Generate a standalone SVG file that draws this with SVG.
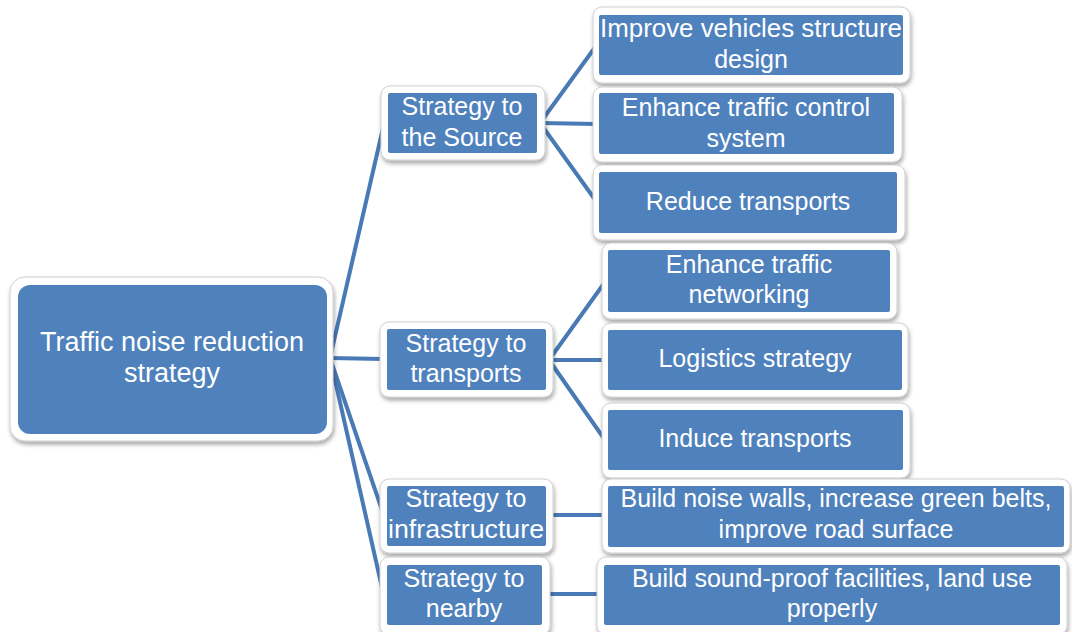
<svg xmlns="http://www.w3.org/2000/svg" width="1072" height="632" viewBox="0 0 1072 632">
<defs>
<filter id="sh" x="-10%" y="-10%" width="120%" height="130%">
<feDropShadow dx="1" dy="3" stdDeviation="2" flood-color="#000" flood-opacity="0.35"/>
</filter>
<style>
.frame{fill:#ffffff;stroke:#cfcfcf;stroke-width:1;filter:url(#sh)}
.box{fill:#4f81bd}
.t{font-family:"Liberation Sans",Arial,sans-serif;font-size:25px;fill:#ffffff;text-anchor:middle}
.tr{font-size:27px}
.c{stroke:#4a7ab5;stroke-width:4;fill:none;stroke-linecap:round}
</style>
</defs>
<rect width="1072" height="632" fill="#ffffff"/>
<g id="connectors">
<line class="c" x1="330" y1="358" x2="383" y2="128"/>
<line class="c" x1="330" y1="358" x2="383" y2="359"/>
<line class="c" x1="330" y1="358" x2="383" y2="513"/>
<line class="c" x1="330" y1="358" x2="383" y2="592"/>
<line class="c" x1="540" y1="123" x2="596" y2="46"/>
<line class="c" x1="540" y1="123" x2="596" y2="124"/>
<line class="c" x1="540" y1="123" x2="596" y2="201"/>
<line class="c" x1="549" y1="360" x2="605" y2="282"/>
<line class="c" x1="549" y1="360" x2="605" y2="360"/>
<line class="c" x1="549" y1="360" x2="605" y2="440"/>
<line class="c" x1="546" y1="515" x2="605" y2="515"/>
<line class="c" x1="542" y1="594" x2="600" y2="594"/>
</g>
<g id="root">
<rect class="frame" x="10" y="277" width="323" height="164" rx="15"/>
<rect class="box" x="18" y="285" width="309" height="149" rx="12"/>
<text class="t tr" x="172" y="351">Traffic noise reduction</text>
<text class="t tr" x="172" y="382">strategy</text>
</g>
<g id="source">
<rect class="frame" x="381" y="86" width="164" height="74" rx="9"/>
<rect class="box" x="388" y="93" width="149" height="60" rx="2"/>
<text class="t" x="462" y="115">Strategy to</text>
<text class="t" x="462" y="146">the Source</text>
</g>
<g id="transports">
<rect class="frame" x="380" y="322" width="173" height="75" rx="9"/>
<rect class="box" x="387" y="329" width="159" height="61" rx="2"/>
<text class="t" x="466" y="352">Strategy to</text>
<text class="t" x="466" y="382">transports</text>
</g>
<g id="infrastructure">
<rect class="frame" x="380" y="479" width="173" height="74" rx="9"/>
<rect class="box" x="387" y="486" width="159" height="60" rx="2"/>
<text class="t" x="466" y="507">Strategy to</text>
<text class="t" x="466" y="538" textLength="156" lengthAdjust="spacingAndGlyphs">infrastructure</text>
</g>
<g id="nearby">
<rect class="frame" x="380" y="557" width="170" height="78" rx="9"/>
<rect class="box" x="387" y="565" width="155" height="60" rx="2"/>
<text class="t" x="464" y="587">Strategy to</text>
<text class="t" x="464" y="617">nearby</text>
</g>
<g id="improve">
<rect class="frame" x="593" y="7" width="317" height="76" rx="9"/>
<rect class="box" x="599" y="15" width="304" height="60" rx="2"/>
<text class="t" x="751" y="37" textLength="302" lengthAdjust="spacingAndGlyphs">Improve vehicles structure</text>
<text class="t" x="751" y="68">design</text>
</g>
<g id="control">
<rect class="frame" x="593" y="87" width="309" height="75" rx="9"/>
<rect class="box" x="599" y="93" width="295" height="61" rx="2"/>
<text class="t" x="746" y="116">Enhance traffic control</text>
<text class="t" x="746" y="147">system</text>
</g>
<g id="reduce">
<rect class="frame" x="593" y="165" width="312" height="75" rx="9"/>
<rect class="box" x="599" y="172" width="298" height="61" rx="2"/>
<text class="t" x="748" y="210">Reduce transports</text>
</g>
<g id="networking">
<rect class="frame" x="602" y="243" width="295" height="76" rx="9"/>
<rect class="box" x="608" y="250" width="282" height="62" rx="2"/>
<text class="t" x="749" y="273">Enhance traffic</text>
<text class="t" x="749" y="303">networking</text>
</g>
<g id="logistics">
<rect class="frame" x="602" y="323" width="306" height="74" rx="9"/>
<rect class="box" x="608" y="330" width="294" height="60" rx="2"/>
<text class="t" x="755" y="367">Logistics strategy</text>
</g>
<g id="induce">
<rect class="frame" x="602" y="403" width="308" height="75" rx="9"/>
<rect class="box" x="608" y="410" width="295" height="60" rx="2"/>
<text class="t" x="755" y="447">Induce transports</text>
</g>
<g id="walls">
<rect class="frame" x="602" y="479" width="468" height="74" rx="9"/>
<rect class="box" x="608" y="486" width="456" height="61" rx="2"/>
<text class="t" x="836" y="507">Build noise walls, increase green belts,</text>
<text class="t" x="836" y="538">improve road surface</text>
</g>
<g id="soundproof">
<rect class="frame" x="597" y="557" width="470" height="78" rx="9"/>
<rect class="box" x="604" y="565" width="456" height="60" rx="2"/>
<text class="t" x="832" y="587">Build sound-proof facilities, land use</text>
<text class="t" x="832" y="617">properly</text>
</g>
</svg>
